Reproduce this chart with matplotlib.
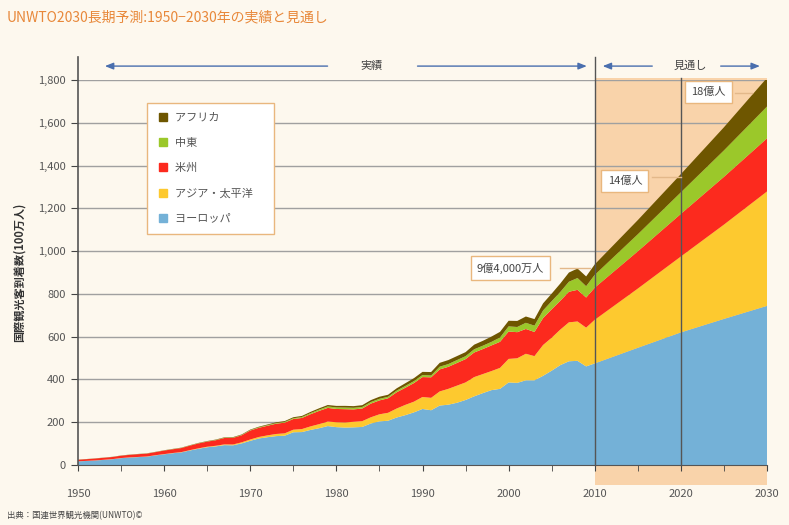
import matplotlib
matplotlib.use("Agg")
import matplotlib.pyplot as plt
from matplotlib.patches import Rectangle
import numpy as np

plt.rcParams['font.family'] = ['Noto Sans CJK JP', 'DejaVu Sans']

# years: annual 1950-2010, then projection points
years = list(range(1950, 2011)) + [2015, 2020, 2025, 2030]

europe = [17, 19, 21, 24, 27, 32, 35, 37, 39, 45,
          50, 55, 59, 68, 76, 83, 87, 93, 92, 101,
          113, 124, 130, 135, 137, 153, 154, 164, 172, 182,
          177, 175, 176, 178, 194, 204, 207, 222, 233, 246,
          262, 256, 278, 282, 291, 304, 321, 336, 350, 356,
          386, 384, 396, 396, 417, 441, 467, 485, 487, 461,
          475, 548, 620, 683, 744]
asia_pacific = [0.2, 0.3, 0.3, 0.4, 0.5, 0.5, 0.6, 0.7, 0.8, 0.8,
                0.9, 1.1, 1.3, 1.6, 2.0, 2.4, 2.9, 3.4, 3.9, 4.9,
                6.2, 7.0, 8.5, 10.0, 11.0, 12.0, 14.0, 16.5, 19.0, 21.0,
                23, 24, 26, 27, 29, 33, 37, 42, 48, 50,
                56, 58, 66, 74, 80, 82, 90, 89, 89, 98,
                110, 115, 124, 113, 144, 154, 166, 182, 184, 181,
                204, 277, 355, 441, 535]
americas = [7.5, 8, 9, 9.5, 10, 11, 12, 13, 13.5, 14.5,
            16.7, 17.5, 19, 21, 23, 24, 26, 30, 31, 33,
            42, 43, 45, 48, 50, 50, 52, 57, 62, 64,
            62, 62, 58, 59, 64, 65, 68, 76, 80, 87,
            93, 96, 103, 103, 106, 109, 115, 117, 120, 122,
            128, 122, 116, 113, 126, 133, 135, 143, 148, 141,
            150, 174, 199, 223, 248]
middle_east = [0.2, 0.2, 0.2, 0.3, 0.3, 0.3, 0.4, 0.4, 0.5, 0.5,
               0.6, 0.7, 0.8, 0.9, 1.0, 1.1, 1.3, 1.3, 1.4, 1.6,
               1.9, 2.3, 2.7, 3.0, 3.3, 3.6, 4.4, 5.2, 5.9, 6.7,
               7.1, 7.5, 7.4, 7.3, 7.4, 7.5, 7.0, 7.8, 8.5, 9.0,
               9.6, 8.4, 12.7, 12.9, 13.5, 13.7, 15.0, 15.6, 16.4, 20.0,
               24.1, 24.2, 28.8, 29.5, 35.4, 37.9, 40.9, 46.7, 55.2, 52.8,
               60, 80, 101, 124, 149]
africa = [0.5, 0.5, 0.6, 0.6, 0.6, 0.7, 0.7, 0.7, 0.8, 0.8,
          0.8, 1.0, 1.1, 1.2, 1.4, 1.5, 1.7, 1.8, 2.0, 2.2,
          2.4, 2.8, 3.2, 3.6, 4.0, 4.7, 5.0, 5.6, 6.2, 6.8,
          7.2, 8.0, 7.8, 8.3, 8.9, 9.7, 9.4, 10.7, 12.6, 13.8,
          14.8, 16.2, 18.0, 18.7, 18.6, 18.9, 21.5, 22.8, 24.8, 26.5,
          26.2, 28.3, 29.5, 30.7, 33.3, 35.4, 39.5, 43.1, 44.4, 45.9,
          49, 66, 85, 108, 134]

labels = ["ヨーロッパ", "アジア・太平洋", "米州", "中東", "アフリカ"]
colors = ["#74B1D7", "#FDC92F", "#FC2A1E", "#9BC82A", "#6E5600"]

callout_text = ["9億4,000万人", "14億人", "18億人"]
callout_pos = [(2000.2, 921), (2013.5, 1328), (2023.2, 1744)]
callout_line = [(2006.0, 2009.4, 921), (2016.6, 2020.0, 1346), (2026.3, 2028.3, 1739)]

bg = "#FDF8EE"
fig = plt.figure(figsize=(7.89, 5.25), dpi=100, facecolor=bg)
ax = fig.add_axes([78 / 789, 60 / 525, 689 / 789, 385 / 525])
ax.set_facecolor("none")
ax.set_xlim(1950, 2030)
ax.set_ylim(0, 1800)

# projection shading
ax.add_patch(Rectangle((2010, -93), 20, 1809 + 93, facecolor="#F9D3AA",
                       edgecolor="none", zorder=0, clip_on=False))

for v in range(200, 1801, 200):
    ax.axhline(v, color="#A0A0A0", lw=1, zorder=1)

ax.stackplot(years, europe, asia_pacific, americas, middle_east, africa,
             colors=colors, linewidth=0, zorder=2)

# vertical markers
ax.plot([2010, 2010], [0, 1907], color="#555555", lw=1, zorder=4, clip_on=False)
ax.plot([2020, 2020], [0, 1809], color="#555555", lw=1, zorder=4, clip_on=False)
ax.plot([1950, 1950], [0, 1907], color="#555555", lw=1.2, zorder=4, clip_on=False)

for s in ["top", "right", "left"]:
    ax.spines[s].set_visible(False)
ax.spines["bottom"].set_color("#555555")
ax.spines["bottom"].set_zorder(5)

ax.set_xticks(range(1950, 2031, 10))
ax.set_xticks(range(1955, 2030, 10), minor=True)
ax.tick_params(axis="x", which="both", length=4, color="#444444", pad=13,
               labelsize=8, labelcolor="#555555")
ax.set_yticks(range(0, 1801, 200))
ax.set_yticklabels([f"{v:,}" for v in range(0, 1801, 200)])
ax.tick_params(axis="y", length=5, color="#444444", pad=4,
               labelsize=8, labelcolor="#555555")

ax.set_ylabel("国際観光客到着数(100万人)", fontsize=8, fontweight="bold",
              color="#333333", labelpad=9)

# period arrows
arrow_kw = dict(arrowstyle="-|>,head_length=0.5,head_width=0.2", color="#4A6FAE", lw=1)
yy = 1865
for x0, x1 in [(1979.3, 1952.8), (1989.1, 2009.4), (2017.0, 2010.6), (2024.3, 2029.5)]:
    ax.annotate("", xy=(x1, yy), xytext=(x0, yy), arrowprops=arrow_kw,
                annotation_clip=False)
ax.text(1984.1, yy, "実績", ha="center", va="center", fontsize=8, color="#444444")
ax.text(2021.1, yy, "見通し", ha="center", va="center", fontsize=8, color="#444444")

# callouts
for (tx, ty), txt, (lx0, lx1, ly) in zip(callout_pos, callout_text, callout_line):
    ax.plot([lx0, lx1], [ly, ly], color="#E3B88A", lw=1, zorder=6)
    ax.text(tx, ty, txt, ha="center", va="center", fontsize=8, color="#444444",
            zorder=7, bbox=dict(boxstyle="square,pad=0.55", fc="white",
                                ec="#E9B77E", lw=1))

# legend
handles = [plt.Line2D([], [], marker="s", ls="none", ms=6, color=c)
           for c in colors[::-1]]
leg = ax.legend(handles, labels[::-1], loc="upper left",
                bbox_to_anchor=(69 / 689, (465 - 103) / 385), fontsize=8,
                frameon=True, fancybox=False, borderpad=0.9, labelspacing=1.35,
                handletextpad=0.6, borderaxespad=0, handlelength=1.0)
leg.get_frame().set_edgecolor("#E9B77E")
leg.get_frame().set_facecolor("white")
leg.get_frame().set_alpha(1)
for t in leg.get_texts():
    t.set_color("#555555")
    t.set_text(t.get_text() + "　")
leg.set_zorder(8)

fig.text(7 / 789, 1 - 17 / 525, "UNWTO2030長期予測:1950−2030年の実績と見通し",
         fontsize=10, color="#E8883A", va="center", ha="left")
fig.text(7 / 789, 1 - 516 / 525, "出典：国連世界観光機関(UNWTO)©",
         fontsize=6, color="#444444", va="center", ha="left")

fig.savefig("out.png", dpi=100, facecolor=bg)
